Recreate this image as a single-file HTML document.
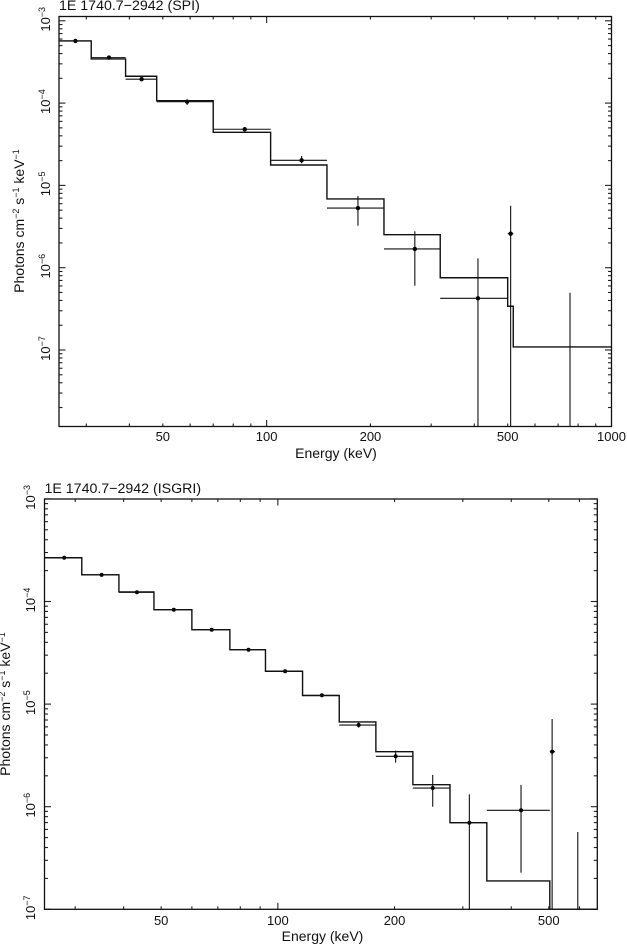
<!DOCTYPE html>
<html lang="en">
<head>
<meta charset="utf-8">
<title>1E 1740.7−2942 spectra</title>
<style>
html,body{margin:0;padding:0;background:#fff;width:627px;height:945px;overflow:hidden;}
svg{display:block;}
text{font-family:"Liberation Sans",Arial,sans-serif;font-size:13px;fill:#111;}
</style>
</head>
<body>
<svg id="figure" xmlns="http://www.w3.org/2000/svg" width="627" height="945" viewBox="0 0 627 945"></svg>
<script>
// SPI panel data
const spiEdges = [25,31,39,48,70,102.7,149.6,218.9,318.7,500,519,1000];
const spiModel = [5.69e-4,3.44e-4,2.12e-4,1.07e-4,4.42e-5,1.77e-5,6.84e-6,2.52e-6,7.55e-7,3.40e-7,1.09e-7];
const spiEnergy = [27.9,34.9,43.4,58.8,86.4,126.3,184,269,410,510,758];
const spiFlux = [5.7e-4,3.57e-4,1.95e-4,1.04e-4,4.81e-5,2.02e-5,5.31e-6,1.69e-6,4.25e-7,2.59e-6,null];
const spiHigh = [5.9e-4,3.7e-4,2.05e-4,1.11e-4,5.08e-5,2.28e-5,7.43e-6,2.77e-6,1.30e-6,5.66e-6,4.97e-7];
const spiLow = [5.5e-4,3.45e-4,1.87e-4,9.5e-5,4.49e-5,1.86e-5,3.24e-6,6.04e-7,1e-9,1e-9,1e-9];
const spiXLabels = [50,100,200,500,1000];
const spiYExponents = [-3,-4,-5,-6,-7];

// ISGRI panel data
const isgriEdges = [25,31.2,38.9,47.9,60,75.2,92.9,115.8,144,179,223,278,346,503,519,667];
const isgriModel = [2.67e-4,1.82e-4,1.24e-4,8.32e-5,5.31e-5,3.39e-5,2.09e-5,1.21e-5,6.70e-6,3.44e-6,1.64e-6,6.98e-7,1.89e-7,1e-9,1e-9];
const isgriEnergy = [28.1,35.1,43.3,53.9,67.5,84,104.4,129.9,161.6,201.3,250.9,311.9,424,510,594];
const isgriFlux = [2.67e-4,1.82e-4,1.23e-4,8.32e-5,5.31e-5,3.39e-5,2.09e-5,1.22e-5,6.25e-6,3.10e-6,1.52e-6,6.98e-7,9.23e-7,3.44e-6,null];
const isgriHigh = [2.71e-4,1.85e-4,1.25e-4,8.45e-5,5.4e-5,3.45e-5,2.13e-5,1.25e-5,6.6e-6,3.52e-6,2.04e-6,1.32e-6,1.63e-6,7.16e-6,5.67e-7];
const isgriLow = [2.63e-4,1.79e-4,1.21e-4,8.2e-5,5.22e-5,3.33e-5,2.05e-5,1.19e-5,5.9e-6,2.69e-6,1.0e-6,1e-9,2.27e-7,1e-9,1e-9];
const isgriXLabels = [50,100,200,500];
const isgriYExponents = [-3,-4,-5,-6,-7];

const NS = 'http://www.w3.org/2000/svg';
const root = document.getElementById('figure');

function make(parent, tag, attrs) {
  const el = document.createElementNS(NS, tag);
  for (const k in attrs) el.setAttribute(k, attrs[k]);
  parent.appendChild(el);
  return el;
}

function drawPanel(p) {
  const xs = e => p.left + (Math.log10(e) - Math.log10(p.xMin)) / (Math.log10(p.xMax) - Math.log10(p.xMin)) * (p.right - p.left);
  const ys = f => Math.min(p.y7 - (Math.log10(f) + 7) * p.decade, p.bottom);

  const g = make(root, 'g', {});
  
  

  const clip = make(g, 'clipPath', { id: p.key + '-clip' });
  make(clip, 'rect', { x: p.left, y: p.top, width: p.right - p.left, height: p.bottom - p.top });

  // data points and error bars
  const dataG = make(g, 'g', { 'clip-path': 'url(#' + p.key + '-clip)', stroke: '#111', 'stroke-width': 1.1, fill: 'none' });
  
  
  p.energy.forEach((e, i) => {
    const v = make(dataG, 'line', { x1: xs(e), x2: xs(e), y1: ys(p.high[i]), y2: ys(p.low[i]) });
    
    
    if (p.flux[i] === null) return;
    const h = make(dataG, 'line', { x1: xs(p.edges[i]), x2: xs(p.edges[i + 1]), y1: ys(p.flux[i]), y2: ys(p.flux[i]) });
    
    
    const c = make(dataG, 'circle', { cx: xs(e), cy: ys(p.flux[i]), r: p.pointR, fill: '#000', stroke: 'none' });
    
    
  });

  // folded model step line
  let d = '';
  p.model.forEach((m, i) => {
    d += (i === 0 ? 'M' : 'L') + xs(p.edges[i]).toFixed(2) + ' ' + ys(m).toFixed(2);
    d += 'L' + xs(p.edges[i + 1]).toFixed(2) + ' ' + ys(m).toFixed(2);
  });
  const modelLine = make(g, 'path', { d: d, fill: 'none', stroke: '#111', 'stroke-width': 1.4, 'clip-path': 'url(#' + p.key + '-clip)' });
  
  

  // ticks
  const ticks = make(g, 'g', { stroke: '#222', 'stroke-width': 1.1 });
  
  
  [10, 100, 1000].forEach(dec => {
    for (let m = 1; m <= 9; m++) {
      const e = dec * m;
      if (e <= p.xMin || e >= p.xMax) continue;
      const len = e === 100 ? 6.5 : 3;
      const x = xs(e);
      make(ticks, 'line', { x1: x, x2: x, y1: p.bottom, y2: p.bottom - len });
      make(ticks, 'line', { x1: x, x2: x, y1: p.top, y2: p.top + len });
    }
  });
  for (let ex = -9; ex <= -3; ex++) {
    for (let m = 1; m <= 9; m++) {
      const raw = p.y7 - (ex + Math.log10(m) + 7) * p.decade;
      if (raw < p.top - 0.1 || raw > p.bottom + 0.1) continue;
      const len = m === 1 ? 6.5 : 3.5;
      make(ticks, 'line', { x1: p.left, x2: p.left + len, y1: raw, y2: raw });
      make(ticks, 'line', { x1: p.right, x2: p.right - len, y1: raw, y2: raw });
    }
  }

  // frame
  const frame = make(g, 'rect', { x: p.left, y: p.top, width: p.right - p.left, height: p.bottom - p.top, fill: 'none', stroke: '#111', 'stroke-width': 1.3 });
  
  

  // x tick labels
  p.xLabels.forEach(v => {
    const t = make(g, 'text', { x: xs(v), y: p.xLabelY, 'text-anchor': 'middle' });
    t.textContent = String(v);
    
    
  });

  // y tick labels
  p.yExponents.forEach(ex => {
    const y = ys(Math.pow(10, ex));
    const t = make(g, 'text', { transform: 'translate(' + p.yLabelX + ' ' + (y - 1.5) + ') rotate(-90)', 'text-anchor': 'middle' });
    
    
    const base = make(t, 'tspan', {});
    base.textContent = '10';
    const sup = make(t, 'tspan', { dy: -5, style: 'font-size:9px' });
    sup.textContent = '\u2212' + Math.abs(ex);
  });

  // title
  const title = make(g, 'text', { x: p.left, y: p.titleY, style: 'font-size:14.2px' });
  title.textContent = p.title;
  
  

  // x axis title
  const xTitle = make(g, 'text', { x: p.xTitleX, y: p.xTitleY, 'text-anchor': 'middle', style: 'font-size:14px' });
  xTitle.textContent = 'Energy (keV)';
  
  

  // y axis title
  const yTitle = make(g, 'text', { transform: 'translate(' + p.yTitleX + ' ' + p.yTitleY + ') rotate(-90)', 'text-anchor': 'middle', style: 'font-size:14px' });
  
  
  const parts = [['Photons cm', 0], ['\u22122', -5], [' s', 5], ['\u22121', -5], [' keV', 5], ['\u22121', -5]];
  parts.forEach(part => {
    const s = make(yTitle, 'tspan', { dy: part[1] });
    if (part[1] < 0) s.setAttribute('style', 'font-size:9px');
    s.textContent = part[0];
  });
}

drawPanel({
  key: 'spi', title: '1E 1740.7\u22122942 (SPI)',
  left: 59, right: 611.5, top: 16.5, bottom: 426.5,
  xMin: 25, xMax: 1000, y7: 350, decade: 82.3, pointR: 2.2,
  edges: spiEdges, model: spiModel, energy: spiEnergy, flux: spiFlux, high: spiHigh, low: spiLow,
  xLabels: spiXLabels, yExponents: spiYExponents,
  xLabelY: 441, yLabelX: 50, titleY: 10,
  xTitleX: 336, xTitleY: 458, yTitleX: 24, yTitleY: 221
});

drawPanel({
  key: 'isgri', title: '1E 1740.7\u22122942 (ISGRI)',
  left: 44.5, right: 597.3, top: 499, bottom: 909.3,
  xMin: 25, xMax: 667, y7: 909.3, decade: 102.6, pointR: 2,
  edges: isgriEdges, model: isgriModel, energy: isgriEnergy, flux: isgriFlux, high: isgriHigh, low: isgriLow,
  xLabels: isgriXLabels, yExponents: isgriYExponents,
  xLabelY: 925, yLabelX: 35, titleY: 493,
  xTitleX: 322.5, xTitleY: 941, yTitleX: 10, yTitleY: 704
});
</script>
</body>
</html>
